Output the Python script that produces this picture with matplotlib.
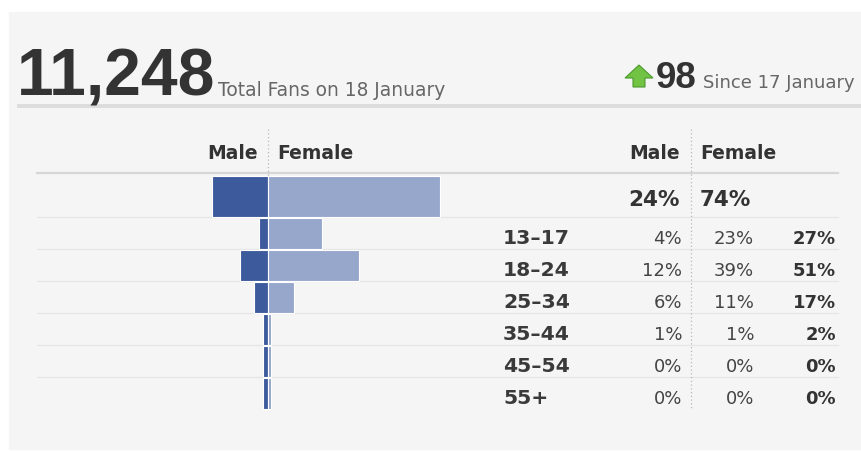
import matplotlib.pyplot as plt
from matplotlib.patches import Rectangle, Polygon

# fans by age group, percent of all fans
age_groups = ['13–17', '18–24', '25–34', '35–44', '45–54', '55+']
male = [4, 12, 6, 1, 0, 0]
female = [23, 39, 11, 1, 0, 0]
total = [27, 51, 17, 2, 0, 0]
male_total = 24
female_total = 74

fan_count = '11,248'
fan_caption = 'Total Fans on 18 January'
fan_change = '98'
change_caption = 'Since 17 January'

MALE_C = '#3d5a9c'
FEMALE_C = '#97a7cc'
DARK = '#333333'
GREY_TXT = '#666666'

W, H = 861, 452
fig = plt.figure(figsize=(W / 100, H / 100), dpi=100)
fig.patch.set_facecolor('white')

# pixel-space layer for panel, rules and text
bg = fig.add_axes([0, 0, 1, 1])
bg.set_xlim(0, W)
bg.set_ylim(H, 0)
bg.axis('off')
bg.add_patch(Rectangle((9, 13), W - 9, 437, color='#f5f5f5', zorder=0))

# headline numbers
bg.text(17, 96, fan_count, family='Liberation Sans', weight='bold',
        fontsize=47.5, color=DARK, va='baseline')
bg.text(218, 96, fan_caption, fontsize=13.4, color=GREY_TXT, va='baseline')
bg.add_patch(Polygon([(639, 66), (653, 79), (645, 79), (645, 88), (633, 88),
                      (633, 79), (625, 79)], closed=True,
                     facecolor='#72c244', edgecolor='#4c9a2c', lw=0.8))
bg.text(656, 88, fan_change, family='Liberation Sans', weight='bold',
        fontsize=26.5, color=DARK, va='baseline')
bg.text(703, 88, change_caption, fontsize=13.0, color=GREY_TXT, va='baseline')
bg.plot([17, W], [106.5, 106.5], color='#dcdcdc', lw=2.8, solid_capstyle='butt')

# row geometry
header_y = 174
total_top, total_bottom = 174, 218
row_h = 32
row_tops = [total_bottom + row_h * i for i in range(len(age_groups))]
row_mid = [t + row_h / 2 for t in row_tops]
total_mid = 197
bottom = row_tops[-1] + row_h

bg.plot([37, 838], [header_y, header_y], color='#d6d6d6', lw=1.6)
for t in row_tops:
    bg.plot([37, 838], [t, t], color='#e6e6e6', lw=1)

PYR_X, TAB_X = 268, 691
for x in (PYR_X, TAB_X):
    bg.plot([x, x], [130, bottom], color='#b8b8b8', lw=0.9, ls=(0, (1, 2)))

# column headers
for xm, xf in ((258, 277), (680, 700)):
    bg.text(xm, 159, 'Male', weight='bold', fontsize=13.5, color=DARK,
            ha='right', va='baseline')
    bg.text(xf, 159, 'Female', weight='bold', fontsize=13.5, color=DARK,
            ha='left', va='baseline')

# totals row
bg.text(680, 206, f'{male_total}%', weight='bold', fontsize=15.5, color=DARK,
        ha='right', va='baseline')
bg.text(700, 206, f'{female_total}%', weight='bold', fontsize=15.5, color=DARK,
        ha='left', va='baseline')

# age rows
for i, grp in enumerate(age_groups):
    yb = row_mid[i] + 10
    bg.text(503, yb, grp, weight='bold', fontsize=14.7, color='#3a3a3a',
            va='baseline')
    bg.text(682, yb, f'{male[i]}%', fontsize=13, color='#444444',
            ha='right', va='baseline')
    bg.text(754, yb, f'{female[i]}%', fontsize=13, color='#444444',
            ha='right', va='baseline')
    bg.text(836, yb, f'{total[i]}%', weight='bold', fontsize=13, color=DARK,
            ha='right', va='baseline')

# pyramid, x in percent with zero on the divider
PX_PER_PCT = 2.33
ax = fig.add_axes([0, 0, 1, 1], zorder=2)
ax.patch.set_visible(False)
ax.set_xlim(-PYR_X / PX_PER_PCT, (W - PYR_X) / PX_PER_PCT)
ax.set_ylim(H, 0)
ax.axis('off')

bar_kw = dict(edgecolor='white', linewidth=0.8)
ax.barh(total_mid, -male_total, height=41, color=MALE_C, **bar_kw)
ax.barh(total_mid, female_total, height=41, color=FEMALE_C, **bar_kw)
# tiny groups still get a sliver so the row is visible
ax.barh(row_mid, [-max(v, 2.0) for v in male], height=row_h - 1,
        color=MALE_C, **bar_kw)
ax.barh(row_mid, [max(v, 1.3) for v in female], height=row_h - 1,
        color=FEMALE_C, **bar_kw)

fig.savefig('out.png', dpi=100, facecolor=fig.get_facecolor())
